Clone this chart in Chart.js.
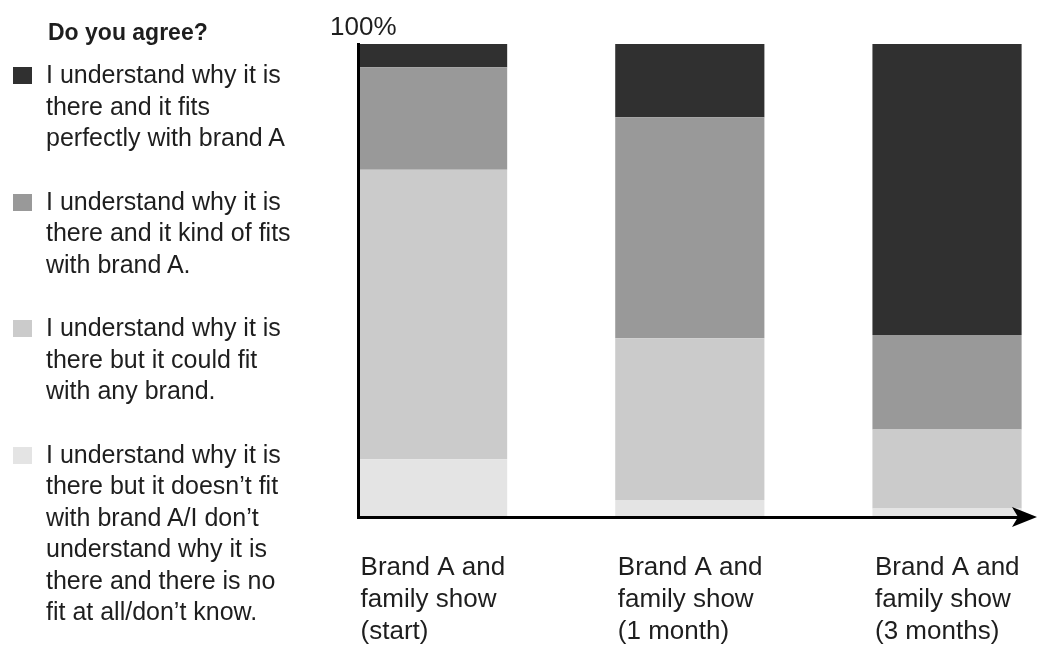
<!DOCTYPE html>
<html><head><meta charset="utf-8">
<script src="https://cdn.jsdelivr.net/npm/chart.js@4.4.1/dist/chart.umd.min.js"></script>
<style>
html,body{margin:0;padding:0;background:#fff;}
#wrap{position:absolute;left:0;top:0;width:1037px;height:648px;}
#legend{position:absolute;left:0;top:0;width:340px;height:648px;font-family:'Liberation Sans',Arial,sans-serif;color:#1e1e1e;pointer-events:none;}
#legend .title{position:absolute;left:48px;top:18px;font-weight:bold;font-size:23px;line-height:28px;white-space:nowrap;}
#legend .items{position:absolute;left:0;top:59px;}
#legend .item{position:relative;margin-bottom:32px;font-size:25px;line-height:31.5px;padding-left:46px;white-space:nowrap;}
#legend .item:nth-child(2){margin-top:3px;}
#legend .sw{position:absolute;left:13px;top:8px;width:19px;height:17px;}
</style></head><body>
<div id="wrap"><canvas id="c"></canvas></div>
<div id="legend"><div class="title">Do you agree?</div><div class="items" id="items"></div></div>
<script>
// ---- data ----
const categories = [
  ["Brand A and", "family show", "(start)"],
  ["Brand A and", "family show", "(1 month)"],
  ["Brand A and", "family show", "(3 months)"]
];
const categoryPositions = [0, 1, 2];

const fitsPerfectly = [4.9, 15.5, 61.5];
const kindOfFits    = [21.7, 46.7, 20.0];
const anyBrand      = [61.2, 34.2, 16.7];
const noFit         = [12.2, 3.6, 1.8];

const nameFitsPerfectly = ["I understand why it is", "there and it fits", "perfectly with brand A"];
const nameKindOfFits    = ["I understand why it is", "there and it kind of fits", "with brand A."];
const nameAnyBrand      = ["I understand why it is", "there but it could fit", "with any brand."];
const nameNoFit         = ["I understand why it is", "there but it doesn\u2019t fit", "with brand A/I don\u2019t", "understand why it is", "there and there is no", "fit at all/don\u2019t know."];

const yTickValues = [100];
const yTickLabels = ["100%"];

// ---- chart ----
Chart.defaults.font.family = "'Liberation Sans', Arial, sans-serif";
Chart.defaults.color = '#1e1e1e';

function series(lines, values, color) {
  return {
    label: lines.join(' '),
    legendLines: lines,
    data: categoryPositions.map((x, i) => ({x: x, y: values[i]})),
    backgroundColor: color,
    borderWidth: 0
  };
}

const arrowPlugin = {
  id: 'axisArrow',
  afterDraw(chart) {
    const s = chart.scales.x;
    const ctx = chart.ctx;
    const y = s.top, x = s.right;
    ctx.save();
    ctx.fillStyle = '#000';
    ctx.beginPath();
    ctx.moveTo(x + 7, y);
    ctx.lineTo(x - 18, y - 10);
    ctx.lineTo(x - 12, y);
    ctx.lineTo(x - 18, y + 10);
    ctx.closePath();
    ctx.fill();
    ctx.restore();
  }
};

const chart = new Chart(document.getElementById('c'), {
  type: 'bar',
  data: {
    datasets: [
      series(nameNoFit, noFit, '#e4e4e4'),
      series(nameAnyBrand, anyBrand, '#cbcbcb'),
      series(nameKindOfFits, kindOfFits, '#999999'),
      series(nameFitsPerfectly, fitsPerfectly, '#303030')
    ]
  },
  options: {
    responsive: true,
    maintainAspectRatio: false,
    animation: false,
    layout: {padding: {top: 44, right: 7, bottom: 0, left: 0}},
    plugins: {legend: {display: false}, tooltip: {enabled: false}},
    datasets: {bar: {barPercentage: 0.58, categoryPercentage: 1}},
    scales: {
      x: {
        type: 'linear',
        stacked: true,
        offset: false,
        bounds: 'data',
        min: -0.29,
        max: 2.3226,
        grid: {display: false, drawTicks: false, offset: false},
        border: {display: true, color: '#000', width: 3, z: 1},
        afterBuildTicks: s => { s.ticks = categoryPositions.map(v => ({value: v})); },
        afterFit: s => { s.height = 131; s.paddingLeft = 0; s.paddingRight = 0; },
        ticks: {
          align: 'start',
          labelOffset: -72,
          padding: 35,
          autoSkip: false,
          maxRotation: 0,
          color: '#1e1e1e',
          font: {size: 26, lineHeight: 1.23},
          callback: v => categories[categoryPositions.indexOf(v)]
        }
      },
      y: {
        stacked: true,
        min: 0,
        max: 100,
        grid: {display: false, drawTicks: false},
        border: {display: true, color: '#000', width: 3, z: 1},
        afterBuildTicks: s => { s.ticks = yTickValues.map(v => ({value: v})); },
        afterFit: s => { s.width = 358; s.paddingTop = 0; s.paddingBottom = 0; },
        ticks: {
          mirror: true,
          padding: -28,
          labelOffset: -16,
          color: '#1e1e1e',
          font: {size: 26},
          callback: v => yTickLabels[yTickValues.indexOf(v)]
        }
      }
    }
  },
  plugins: [arrowPlugin]
});

// ---- HTML legend built from the datasets (top of stack first) ----
const itemsEl = document.getElementById('items');
chart.data.datasets.slice().reverse().forEach(ds => {
  const item = document.createElement('div');
  item.className = 'item';
  const sw = document.createElement('span');
  sw.className = 'sw';
  sw.style.background = ds.backgroundColor;
  item.appendChild(sw);
  ds.legendLines.forEach((ln, i) => {
    if (i) item.appendChild(document.createElement('br'));
    item.appendChild(document.createTextNode(ln));
  });
  itemsEl.appendChild(item);
});
</script>
</body></html>
